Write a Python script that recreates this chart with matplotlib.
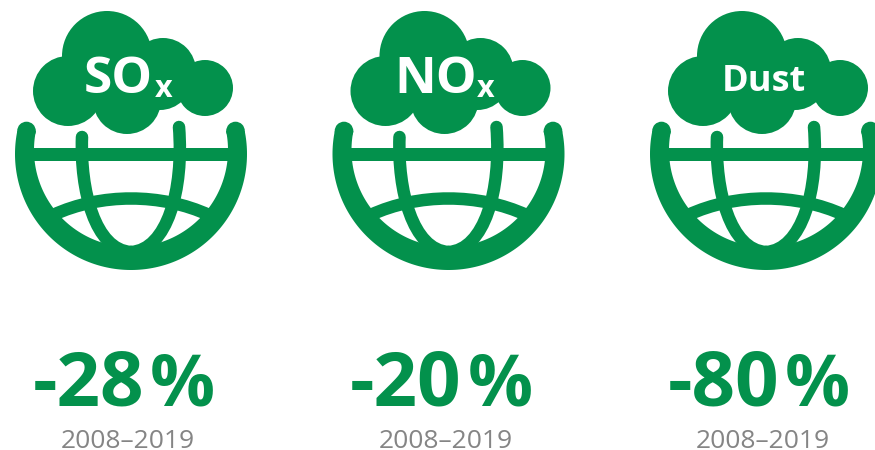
import numpy as np
import matplotlib
matplotlib.use('Agg')
import matplotlib.pyplot as plt
from matplotlib.patches import Circle, PathPatch, Polygon
from matplotlib.path import Path

plt.rcParams['font.family'] = ['Open Sans', 'DejaVu Sans']

VERDE = '#03914c'
CINZA = '#858585'

poluentes = ['SO', 'NO', 'Dust']
subscritos = ['x', 'x', '']
variacoes = ['-28', '-20', '-80']
unidade = '%'
periodos = ['2008–2019', '2008–2019', '2008–2019']

# deslocamento horizontal de cada icone, em pixels
deslocamentos = [0, 317.5, 635]
pos_subscrito = [164, 168, 0]


def curva(ax, pontos, largura):
    codigos = [Path.MOVETO] + [Path.CURVE4] * (len(pontos) - 1)
    ax.add_patch(PathPatch(Path(pontos, codigos), fc='none', ec=VERDE, lw=largura * 0.72,
                           capstyle='round', joinstyle='round'))


def desenhar_nuvem(ax, dx):
    circulos = [(68, 91, 35), (107, 56, 45), (163, 71, 33), (205, 88, 28),
                (127, 100, 34), (160, 78, 32)]
    for cx, cy, r in circulos:
        ax.add_patch(Circle((cx + dx, cy), r, fc=VERDE, ec='none'))
    ax.add_patch(Polygon([(70 + dx, 60), (195 + dx, 62), (185 + dx, 100), (70 + dx, 110)],
                         fc=VERDE, ec='none'))


def desenhar_globo(ax, dx):
    cx = 131 + dx
    # contorno externo e interno do globo
    ang_ext = np.radians(np.linspace(-11.4, 191.4, 160))
    ang_int = np.radians(np.linspace(191.4, -11.4, 160))
    ext = np.column_stack([cx + 116 * np.cos(ang_ext), 154 + 116 * np.sin(ang_ext)])
    inte = np.column_stack([cx + 97 * np.cos(ang_int), 150 + 97 * np.sin(ang_int)])
    ax.add_patch(Polygon(np.vstack([ext, inte]), closed=True, fc=VERDE, ec='none'))
    for sinal in [-1, 1]:
        ax.add_patch(Circle((cx + sinal * 104.5, 131), 9.3, fc=VERDE, ec='none'))

    # faixa horizontal
    ax.add_patch(Polygon([(cx - 100, 148), (cx + 100, 148), (cx + 100, 161), (cx - 100, 161)],
                         fc=VERDE, ec='none'))

    # meridianos
    curva(ax, [(cx - 49, 137), (cx - 51, 190), (cx - 36, 250), (cx, 252)], 12.5)
    curva(ax, [(cx + 48, 127), (cx + 53, 190), (cx + 36, 250), (cx, 252)], 12.5)

    # paralelo inferior
    curva(ax, [(cx - 78, 215), (cx - 30, 193), (cx + 30, 193), (cx + 78, 215)], 12.5)


def main():
    fig = plt.figure(figsize=(8.75, 4.5), dpi=100)
    ax = fig.add_axes([0, 0, 1, 1])
    ax.set_xlim(0, 875)
    ax.set_ylim(450, 0)
    ax.axis('off')

    for i, dx in enumerate(deslocamentos):
        desenhar_globo(ax, dx)
        desenhar_nuvem(ax, dx)

        if subscritos[i]:
            ax.text(118 + dx, 93, poluentes[i], color='white', fontsize=37, fontweight='bold',
                    ha='center', va='baseline')
            ax.text(pos_subscrito[i] + dx, 97, subscritos[i], color='white', fontsize=22,
                    fontweight='bold', ha='center', va='baseline')
        else:
            ax.text(129 + dx, 91, poluentes[i], color='white', fontsize=26, fontweight='bold',
                    ha='center', va='baseline')

        ax.text(144 + dx, 405, variacoes[i], color=VERDE, fontsize=55, fontweight='bold',
                ha='right', va='baseline')
        ax.text(150 + dx, 405, unidade, color=VERDE, fontsize=52, fontweight='bold',
                ha='left', va='baseline')
        ax.text(128 + dx, 448, periodos[i], color=CINZA, fontsize=19, ha='center', va='baseline')

    fig.savefig('out.png', dpi=100)
    plt.close(fig)


if __name__ == "__main__":
    main()
